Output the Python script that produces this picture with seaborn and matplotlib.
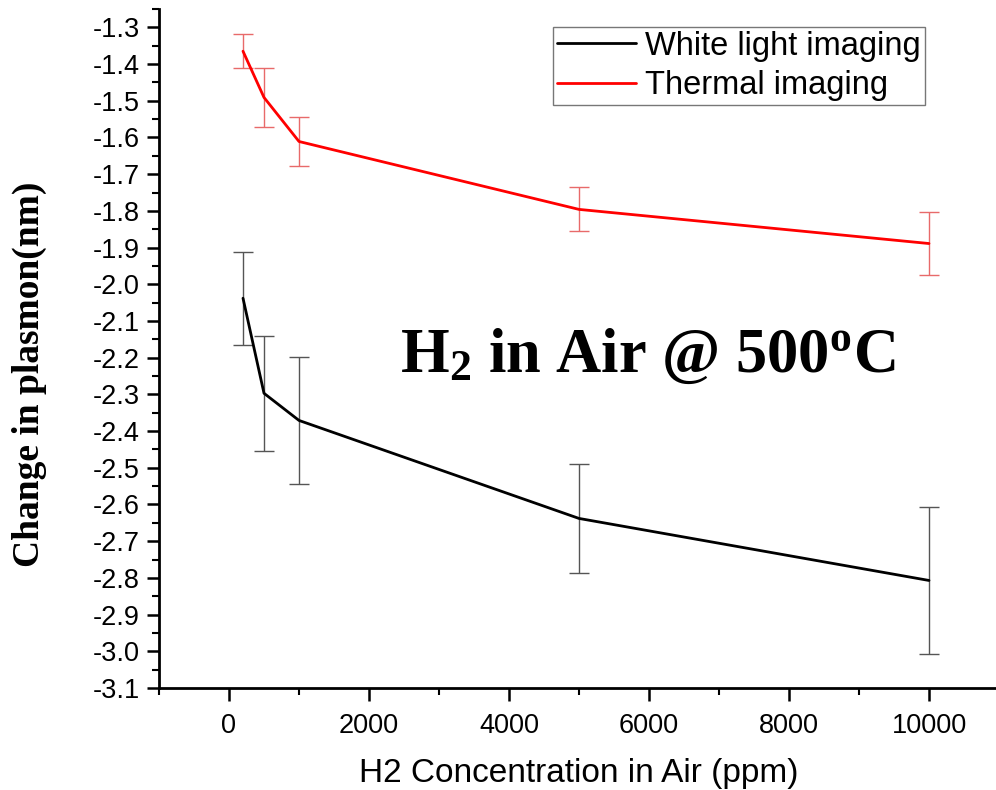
import numpy as np
import pandas as pd
import matplotlib
matplotlib.use("Agg")
import matplotlib.pyplot as plt
import seaborn as sns
from matplotlib.ticker import MultipleLocator, FixedLocator

# ---- data ----
concentration = [200, 500, 1000, 5000, 10000]
white_light = [-2.038, -2.297, -2.371, -2.638, -2.807]
white_err = [0.127, 0.157, 0.173, 0.148, 0.200]
thermal = [-1.365, -1.491, -1.611, -1.796, -1.889]
thermal_err = [0.047, 0.080, 0.067, 0.060, 0.087]
series_names = ["White light imaging", "Thermal imaging"]
x_ticks = [0, 2000, 4000, 6000, 8000, 10000]
y_ticks = [-1.3, -1.4, -1.5, -1.6, -1.7, -1.8, -1.9, -2.0, -2.1, -2.2,
           -2.3, -2.4, -2.5, -2.6, -2.7, -2.8, -2.9, -3.0, -3.1]

df = pd.DataFrame({
    "x": concentration * 2,
    "y": white_light + thermal,
    "series": [series_names[0]] * 5 + [series_names[1]] * 5,
})

sns.set_style("ticks")
plt.rcParams['font.family'] = ['Liberation Sans', 'DejaVu Sans']
plt.rcParams['text.color'] = 'black'
plt.rcParams['axes.labelcolor'] = 'black'
plt.rcParams['xtick.color'] = 'black'
plt.rcParams['ytick.color'] = 'black'
plt.rcParams['mathtext.fontset'] = 'custom'
plt.rcParams['mathtext.rm'] = 'Liberation Serif:bold'
plt.rcParams['mathtext.bf'] = 'Liberation Serif:bold'
plt.rcParams['mathtext.it'] = 'Liberation Serif:bold'

fig = plt.figure(figsize=(9.96, 7.9), dpi=100)
ax = fig.add_axes([159 / 996, (790 - 688) / 790, 840 / 996, (688 - 9) / 790])

palette = {series_names[0]: "black", series_names[1]: "#ff0000"}
sns.lineplot(data=df, x="x", y="y", hue="series", palette=palette,
             linewidth=2.0, ax=ax, legend=True)

ax.errorbar(concentration, white_light, yerr=white_err, fmt="none",
            ecolor="#555555", elinewidth=1.0, capsize=7, capthick=1.0, zorder=1)
ax.errorbar(concentration, thermal, yerr=thermal_err, fmt="none",
            ecolor="#e86a6a", elinewidth=1.0, capsize=7, capthick=1.0, zorder=1)

ax.set_xlim(-1000, 11000)
ax.set_ylim(-3.1, -1.25)
ax.xaxis.set_major_locator(FixedLocator(x_ticks))
ax.xaxis.set_minor_locator(MultipleLocator(1000))
ax.yaxis.set_major_locator(FixedLocator(y_ticks))
ax.yaxis.set_minor_locator(MultipleLocator(0.05))
ax.set_xticklabels([str(t) for t in x_ticks])
ax.set_yticklabels([f"{t:.1f}" for t in y_ticks])

for s in ["top", "right"]:
    ax.spines[s].set_visible(False)
for s in ["left", "bottom"]:
    ax.spines[s].set_linewidth(2.0)
    ax.spines[s].set_color("black")

ax.tick_params(axis="both", which="major", direction="out", length=9,
               width=1.8, labelsize=19.5, colors="black", pad=5)
ax.tick_params(axis="both", which="minor", direction="out", length=5,
               width=1.5, colors="black")
ax.tick_params(axis="x", which="major", pad=9)

ax.set_xlabel("H2 Concentration in Air (ppm)", fontsize=24)
ax.xaxis.set_label_coords(0.5, -(758 - 688) / 679)
ax.set_ylabel("Change in plasmon(nm)", fontsize=27, fontweight="bold",
              family=["Liberation Serif", "DejaVu Serif"])
ax.yaxis.set_label_coords(-(159 - 47) / 840, (688 - 374) / 679)

ax.text(400, 790 - 372, r"H$_{2}$ in Air @ 500$^{o}$C", transform=None,
        fontsize=45, fontweight="bold", family=["Liberation Serif", "DejaVu Serif"],
        ha="left", va="baseline", color="black")

leg = ax.legend(loc="upper right", bbox_to_anchor=(925 / 996, 1 - 27 / 790),
                bbox_transform=fig.transFigure, fontsize=23.5, frameon=True,
                fancybox=False, edgecolor="#555555", handlelength=2.4,
                handletextpad=0.3, borderpad=0.12, labelspacing=0.25,
                borderaxespad=0)
leg.get_frame().set_linewidth(1.0)
for line in leg.get_lines():
    line.set_linewidth(2.0)

fig.savefig("out.png", dpi=100)
